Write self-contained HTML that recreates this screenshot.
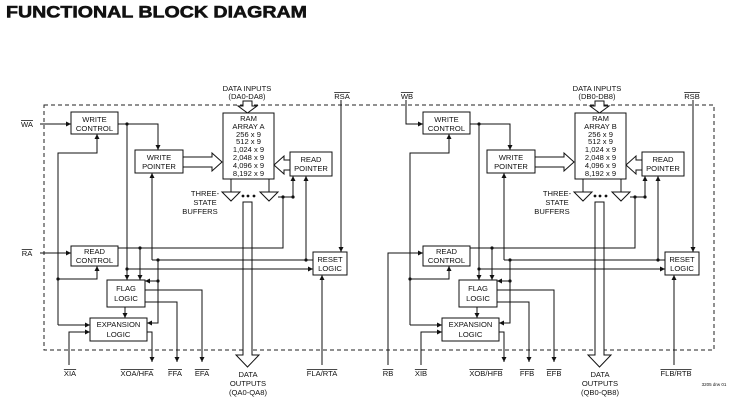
<!DOCTYPE html>
<html><head><meta charset="utf-8"><style>
html,body{margin:0;padding:0;background:#fff;}
svg{display:block;}
text{font-family:"Liberation Sans",Arial,sans-serif;fill:#111;}
.b{font-size:7.6px;text-anchor:middle;}
.l{font-size:7.6px;}
.o{text-decoration:overline;}
</style></head><body>
<svg width="734" height="404" viewBox="0 0 734 404" xmlns="http://www.w3.org/2000/svg">
<defs>
<marker id="a" viewBox="0 0 8 8" refX="8" refY="4" markerWidth="5" markerHeight="5" orient="auto" markerUnits="userSpaceOnUse"><path d="M0,0 L8,4 L0,8 z" fill="#111"/></marker>
</defs>
<text x="6" y="17.5" textLength="301" lengthAdjust="spacingAndGlyphs" style="font-size:17px;font-weight:900;stroke:#111;stroke-width:0.6">FUNCTIONAL BLOCK DIAGRAM</text>
<rect x="44" y="105" width="670" height="245" fill="none" stroke="#222" stroke-width="1" stroke-dasharray="4,3"/>

<!-- LEFT HALF -->
<g id="L" stroke="#111" stroke-width="1" fill="none">
<path d="M243,202 V355 H236 L247.5,367 L259,355 H252 V202 Z" fill="#fff"/>
<path d="M118,124 H158 V150" marker-end="url(#a)"/>
<path d="M127,124 V280" marker-end="url(#a)"/>
<path d="M127,269 H313" marker-end="url(#a)"/>
<path d="M118,248 H283 V197"/>
<path d="M140,248 V280" marker-end="url(#a)"/>
<path d="M231,179 V192 M269,179 V192"/>
<path d="M222,192 H240 L231,201 Z M260,192 H278 L269,201 Z" fill="#fff"/>
<path d="M278,197 H293 V176" marker-end="url(#a)"/>
<path d="M152,260 V173" marker-end="url(#a)"/>
<path d="M152,260 H313"/>
<path d="M158,260 V323 H147" marker-end="url(#a)"/>
<path d="M158,281 H145" marker-end="url(#a)"/>
<path d="M306,260 V176" marker-end="url(#a)"/>
<path d="M322,365 V275" marker-end="url(#a)"/>
<path d="M58,325 V153 H97 V134" marker-end="url(#a)"/>
<path d="M58,325 H90" marker-end="url(#a)"/>
<path d="M58,279 H97 V266" marker-end="url(#a)"/>
<path d="M125,307 V318" marker-end="url(#a)"/>
<path d="M69,365 V332 H90" marker-end="url(#a)"/>
<path d="M147,332 H152 V362" marker-end="url(#a)"/>
<path d="M145,290 H202 V362" marker-end="url(#a)"/>
<path d="M145,302 H177 V362" marker-end="url(#a)"/>
<path d="M183,157 H212 V153 L222,162 L212,171 V167 H183" fill="#fff"/>
<path d="M290,160 H284 V156 L274,165 L284,174 V170 H290" fill="#fff"/>
<path d="M243,101 V106 H238 L247.5,113 L257,106 H252 V101 Z" fill="#fff"/>
<path d="M341,100 V252" marker-end="url(#a)"/>
<path d="M40,124 H71" marker-end="url(#a)"/>
<path d="M40,253 H71" marker-end="url(#a)"/>
<rect x="71" y="112" width="47" height="22" fill="#fff"/>
<rect x="135" y="150" width="48" height="23" fill="#fff"/>
<rect x="223" y="113" width="51" height="66" fill="#fff"/>
<rect x="290" y="152" width="42" height="24" fill="#fff"/>
<rect x="71" y="246" width="47" height="20" fill="#fff"/>
<rect x="313" y="252" width="34" height="23" fill="#fff"/>
<rect x="107" y="280" width="38" height="27" fill="#fff"/>
<rect x="90" y="318" width="57" height="23" fill="#fff"/>
<g fill="#111" stroke="none">
<circle cx="127" cy="124" r="1.6"/><circle cx="127" cy="269" r="1.6"/><circle cx="140" cy="248" r="1.6"/>
<circle cx="158" cy="260" r="1.6"/><circle cx="158" cy="281" r="1.6"/><circle cx="306" cy="260" r="1.6"/>
<circle cx="58" cy="279" r="1.6"/><circle cx="283" cy="197" r="1.6"/><circle cx="293" cy="197" r="1.6"/>
<circle cx="243" cy="196" r="1.4"/><circle cx="248" cy="196" r="1.4"/><circle cx="254" cy="196" r="1.4"/>
</g>
</g>
<text class="b" x="94.5" y="122">WRITE</text><text class="b" x="94.5" y="131">CONTROL</text>
<text class="b" x="159" y="160">WRITE</text><text class="b" x="159" y="169">POINTER</text>
<text class="b" x="248.5" y="121">RAM</text><text class="b" x="248.5" y="129">ARRAY A</text>
<text class="b" x="248.5" y="137">256 x 9</text><text class="b" x="248.5" y="144">512 x 9</text>
<text class="b" x="248.5" y="152">1,024 x 9</text><text class="b" x="248.5" y="160">2,048 x 9</text>
<text class="b" x="248.5" y="168">4,096 x 9</text><text class="b" x="248.5" y="176">8,192 x 9</text>
<text class="b" x="311" y="162">READ</text><text class="b" x="311" y="171">POINTER</text>
<text class="b" x="94.5" y="254">READ</text><text class="b" x="94.5" y="263">CONTROL</text>
<text class="b" x="330" y="262">RESET</text><text class="b" x="330" y="271">LOGIC</text>
<text class="b" x="126" y="291">FLAG</text><text class="b" x="126" y="301">LOGIC</text>
<text class="b" x="118.5" y="327">EXPANSION</text><text class="b" x="118.5" y="337">LOGIC</text>
<text class="b" x="205" y="196">THREE-</text><text class="b" x="205" y="205">STATE</text><text class="b" x="200" y="214">BUFFERS</text>
<text class="b" x="247" y="91">DATA INPUTS</text><text class="b" x="247" y="99">(DA0-DA8)</text>
<text class="b" x="248" y="377">DATA</text><text class="b" x="248" y="386">OUTPUTS</text><text class="b" x="248" y="395">(QA0-QA8)</text>
<text class="b o" x="27" y="127">WA</text>
<text class="b o" x="27" y="256">RA</text>
<text class="b o" x="342" y="99">RSA</text>
<text class="b o" x="70" y="376">XIA</text>
<text class="b o" x="137" y="376">XOA/HFA</text>
<text class="b o" x="175" y="376">FFA</text>
<text class="b o" x="202" y="376">EFA</text>
<text class="b o" x="322" y="376">FLA/RTA</text>

<!-- RIGHT HALF -->
<g transform="translate(352,0)">
<g stroke="#111" stroke-width="1" fill="none">
<path d="M243,202 V355 H236 L247.5,367 L259,355 H252 V202 Z" fill="#fff"/>
<path d="M118,124 H158 V150" marker-end="url(#a)"/>
<path d="M127,124 V280" marker-end="url(#a)"/>
<path d="M127,269 H313" marker-end="url(#a)"/>
<path d="M118,248 H283 V197"/>
<path d="M140,248 V280" marker-end="url(#a)"/>
<path d="M231,179 V192 M269,179 V192"/>
<path d="M222,192 H240 L231,201 Z M260,192 H278 L269,201 Z" fill="#fff"/>
<path d="M278,197 H293 V176" marker-end="url(#a)"/>
<path d="M152,260 V173" marker-end="url(#a)"/>
<path d="M152,260 H313"/>
<path d="M158,260 V323 H147" marker-end="url(#a)"/>
<path d="M158,281 H145" marker-end="url(#a)"/>
<path d="M306,260 V176" marker-end="url(#a)"/>
<path d="M322,365 V275" marker-end="url(#a)"/>
<path d="M58,325 V153 H97 V134" marker-end="url(#a)"/>
<path d="M58,325 H90" marker-end="url(#a)"/>
<path d="M58,279 H97 V266" marker-end="url(#a)"/>
<path d="M125,307 V318" marker-end="url(#a)"/>
<path d="M69,365 V332 H90" marker-end="url(#a)"/>
<path d="M147,332 H152 V362" marker-end="url(#a)"/>
<path d="M145,290 H202 V362" marker-end="url(#a)"/>
<path d="M145,302 H177 V362" marker-end="url(#a)"/>
<path d="M183,157 H212 V153 L222,162 L212,171 V167 H183" fill="#fff"/>
<path d="M290,160 H284 V156 L274,165 L284,174 V170 H290" fill="#fff"/>
<path d="M243,101 V106 H238 L247.5,113 L257,106 H252 V101 Z" fill="#fff"/>
<path d="M341,100 V252" marker-end="url(#a)"/>
<path d="M54,100 V124 H71" marker-end="url(#a)"/>
<path d="M36,365 V253 H71" marker-end="url(#a)"/>
<rect x="71" y="112" width="47" height="22" fill="#fff"/>
<rect x="135" y="150" width="48" height="23" fill="#fff"/>
<rect x="223" y="113" width="51" height="66" fill="#fff"/>
<rect x="290" y="152" width="42" height="24" fill="#fff"/>
<rect x="71" y="246" width="47" height="20" fill="#fff"/>
<rect x="313" y="252" width="34" height="23" fill="#fff"/>
<rect x="107" y="280" width="38" height="27" fill="#fff"/>
<rect x="90" y="318" width="57" height="23" fill="#fff"/>
<g fill="#111" stroke="none">
<circle cx="127" cy="124" r="1.6"/><circle cx="127" cy="269" r="1.6"/><circle cx="140" cy="248" r="1.6"/>
<circle cx="158" cy="260" r="1.6"/><circle cx="158" cy="281" r="1.6"/><circle cx="306" cy="260" r="1.6"/>
<circle cx="58" cy="279" r="1.6"/><circle cx="283" cy="197" r="1.6"/><circle cx="293" cy="197" r="1.6"/>
<circle cx="243" cy="196" r="1.4"/><circle cx="248" cy="196" r="1.4"/><circle cx="254" cy="196" r="1.4"/>
</g>
</g>
<text class="b" x="94.5" y="122">WRITE</text><text class="b" x="94.5" y="131">CONTROL</text>
<text class="b" x="159" y="160">WRITE</text><text class="b" x="159" y="169">POINTER</text>
<text class="b" x="248.5" y="121">RAM</text><text class="b" x="248.5" y="129">ARRAY B</text>
<text class="b" x="248.5" y="137">256 x 9</text><text class="b" x="248.5" y="144">512 x 9</text>
<text class="b" x="248.5" y="152">1,024 x 9</text><text class="b" x="248.5" y="160">2,048 x 9</text>
<text class="b" x="248.5" y="168">4,096 x 9</text><text class="b" x="248.5" y="176">8,192 x 9</text>
<text class="b" x="311" y="162">READ</text><text class="b" x="311" y="171">POINTER</text>
<text class="b" x="94.5" y="254">READ</text><text class="b" x="94.5" y="263">CONTROL</text>
<text class="b" x="330" y="262">RESET</text><text class="b" x="330" y="271">LOGIC</text>
<text class="b" x="126" y="291">FLAG</text><text class="b" x="126" y="301">LOGIC</text>
<text class="b" x="118.5" y="327">EXPANSION</text><text class="b" x="118.5" y="337">LOGIC</text>
<text class="b" x="205" y="196">THREE-</text><text class="b" x="205" y="205">STATE</text><text class="b" x="200" y="214">BUFFERS</text>
<text class="b" x="245" y="91">DATA INPUTS</text><text class="b" x="245" y="99">(DB0-DB8)</text>
<text class="b" x="248" y="377">DATA</text><text class="b" x="248" y="386">OUTPUTS</text><text class="b" x="248" y="395">(QB0-QB8)</text>
<text class="b o" x="55" y="99">WB</text>
<text class="b o" x="36" y="376">RB</text>
<text class="b o" x="340" y="99">RSB</text>
<text class="b o" x="69" y="376">XIB</text>
<text class="b o" x="134" y="376">XOB/HFB</text>
<text class="b o" x="175" y="376">FFB</text>
<text class="b o" x="202" y="376">EFB</text>
<text class="b o" x="324" y="376">FLB/RTB</text>
</g>
<text x="714" y="386" style="font-size:4.5px;text-anchor:middle">3205 drw 01</text>
</svg>
</body></html>
